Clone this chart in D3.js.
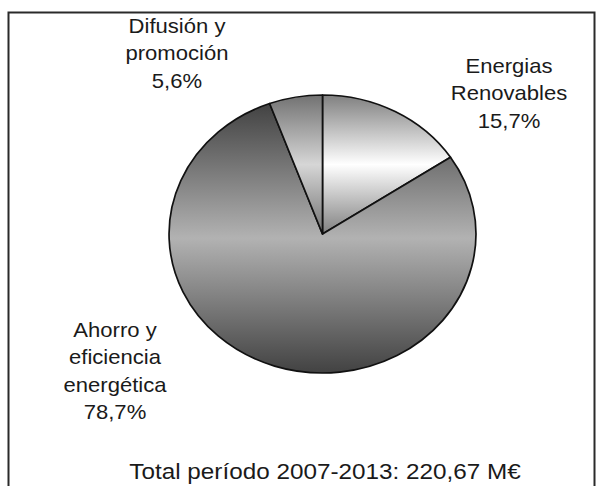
<!DOCTYPE html>
<html>
<head>
<meta charset="utf-8">
<script src="https://cdn.jsdelivr.net/npm/d3@7"></script>
<style>
  html, body { margin: 0; padding: 0; background: #fff; }
  svg { display: block; }
  text { font-family: "Liberation Sans", Arial, sans-serif; fill: #1a1a1a; }
</style>
</head>
<body>
<svg id="chart" width="603" height="486"></svg>
<script>
// Budget shares 2007-2013 (percent of total)
const categories = ["Energias Renovables", "Ahorro y eficiencia energética", "Difusión y promoción"];
const labelLines = [["Energias", "Renovables"], ["Ahorro y", "eficiencia", "energética"], ["Difusión y", "promoción"]];
const shares = [15.7, 78.7, 5.6];
const totalLabel = "Total período 2007-2013: 220,67 M€";

// Fill shading per slice: edge tone and centre tone of a banded gradient
const edgeTones = ["#808080", "#424242", "#727272"];
const midTones  = ["#ffffff", "#b2b2b2", "#d6d6d6"];

const W = 603, H = 486;
const cx = 322.5, cy = 234;
const r = 139;          // vertical radius
const sx = 1.104;       // horizontal stretch of the whole drawing

const svg = d3.select("#chart");
const defs = svg.append("defs");

// Frame (open at the bottom edge of the page)
svg.append("rect")
  .attr("x", 8.5).attr("y", 12.5)
  .attr("width", 586).attr("height", 520)
  .attr("fill", "none").attr("stroke", "#2a2a2a").attr("stroke-width", 2);

const pie = d3.pie().sort(null).value(d => d)(shares);
const arc = d3.arc().innerRadius(0).outerRadius(r);

pie.forEach((d, i) => {
  const g = defs.append("linearGradient")
    .attr("id", "shade" + i)
    .attr("x1", 0).attr("y1", 0).attr("x2", 0).attr("y2", 1);
  g.append("stop").attr("offset", 0).attr("stop-color", edgeTones[i]);
  g.append("stop").attr("offset", 0.5).attr("stop-color", midTones[i]);
  g.append("stop").attr("offset", 1).attr("stop-color", edgeTones[i]);
});

const pieG = svg.append("g")
  .attr("transform", `translate(${cx},${cy}) scale(${sx},1)`);

pieG.selectAll("path")
  .data(pie)
  .join("path")
  .attr("d", arc)
  .attr("fill", (d, i) => `url(#shade${i})`)
  .attr("stroke", "#111")
  .attr("stroke-width", 1.7)
  .attr("stroke-linejoin", "round")
  .attr("vector-effect", "non-scaling-stroke");

// Label placement (centre x, first baseline y) in page coordinates
const labelPos = [[509, 73], [115, 337], [177, 33]];
const lineGap = 27.5;
const fmt = v => d3.format(".1f")(v).replace(".", ",") + "%";

const textG = svg.append("g").attr("transform", `scale(${sx},1)`);

categories.forEach((c, i) => {
  const lines = labelLines[i].concat([fmt(shares[i])]);
  const t = textG.append("text")
    .attr("text-anchor", "middle")
    .attr("font-size", 20);
  lines.forEach((ln, k) => {
    t.append("tspan")
      .attr("x", labelPos[i][0] / sx)
      .attr("y", labelPos[i][1] + k * lineGap)
      .text(ln);
  });
});

textG.append("text")
  .attr("x", 325 / sx)
  .attr("y", 479)
  .attr("text-anchor", "middle")
  .attr("font-size", 22)
  .text(totalLabel);
</script>
</body>
</html>
